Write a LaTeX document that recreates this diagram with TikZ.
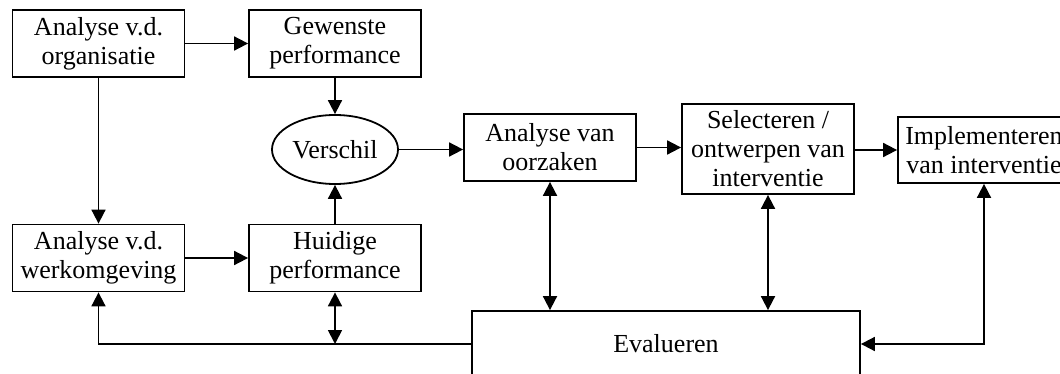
\documentclass[tikz,border=0pt]{standalone}
\usepackage{fontspec}
\setmainfont{Liberation Serif}
\usetikzlibrary{shapes.geometric,arrows.meta,positioning}
\tikzset{proc node/.style={rectangle,draw,line width=0.9pt,minimum width=86pt,minimum height=33.5pt,inner sep=2pt,align=center,font=\fontsize{13}{14.5}\selectfont},
         diff node/.style={ellipse,draw,line width=0.9pt,minimum width=63pt,minimum height=34.5pt,inner sep=0pt,font=\fontsize{13}{14.5}\selectfont},
}

\begin{document}
\begin{tikzpicture}[x=0.5pt, y=-0.5pt,
>={Triangle[length=7pt,width=7pt]},
line width=0.9pt]

\path[use as bounding box, clip] (0,0) rectangle (1060,374);

% \draw[help lines, step=50] (0,0) grid (1060,374);

\node[proc node] (an_org) at (98.5,43.5) {Analyse v.d.\\organisatie};
\node[proc node] (gew_perf) at (335,43.5) {Gewenste\\performance};
\node[diff node] (versch) at (335,149.5) {Verschil};
\node[proc node] (an_werk) at (98.5,258) {Analyse v.d.\\werkomgeving};
\node[proc node] (huid_perf) at (335,258) {Huidige\\performance};

\node[proc node] (an_oorz) at (550,147.5) {Analyse van\\oorzaken};
\node[proc node, minimum height=45pt] (sel_int) at (768,149) {Selecteren /\\ontwerpen van\\interventie};
\node[proc node, minimum height=33pt] (impl_int) at (984,150) {Implementeren\\van interventie};

\node[proc node, minimum width=194pt, minimum height=33pt] (eval) at (666,344) {Evalueren};

% performance
\draw[->] (an_org) -- (gew_perf);
\draw[->] (an_org) -- (an_werk);
\draw[->] (an_werk) -- (huid_perf);
\draw[->] (gew_perf) -- (versch);
\draw[->] (huid_perf) -- (versch);

% oorzaken en interventie
\draw[->] (versch.east) -- (versch.east -| an_oorz.west);
\draw[->] (an_oorz.east) -- (an_oorz.east -| sel_int.west);
\draw[->] (sel_int.east |- impl_int.west) -- (impl_int.west);

% evaluatie
\draw[<->] (an_oorz) -- (an_oorz |- eval.north);
\draw[<->] (sel_int) -- (sel_int |- eval.north);
\draw[<->] (impl_int) |- (eval);
\draw[->] (eval) -| (an_werk);
\draw[<->] (huid_perf) -- (huid_perf |- eval.west);

\end{tikzpicture}
\end{document}
